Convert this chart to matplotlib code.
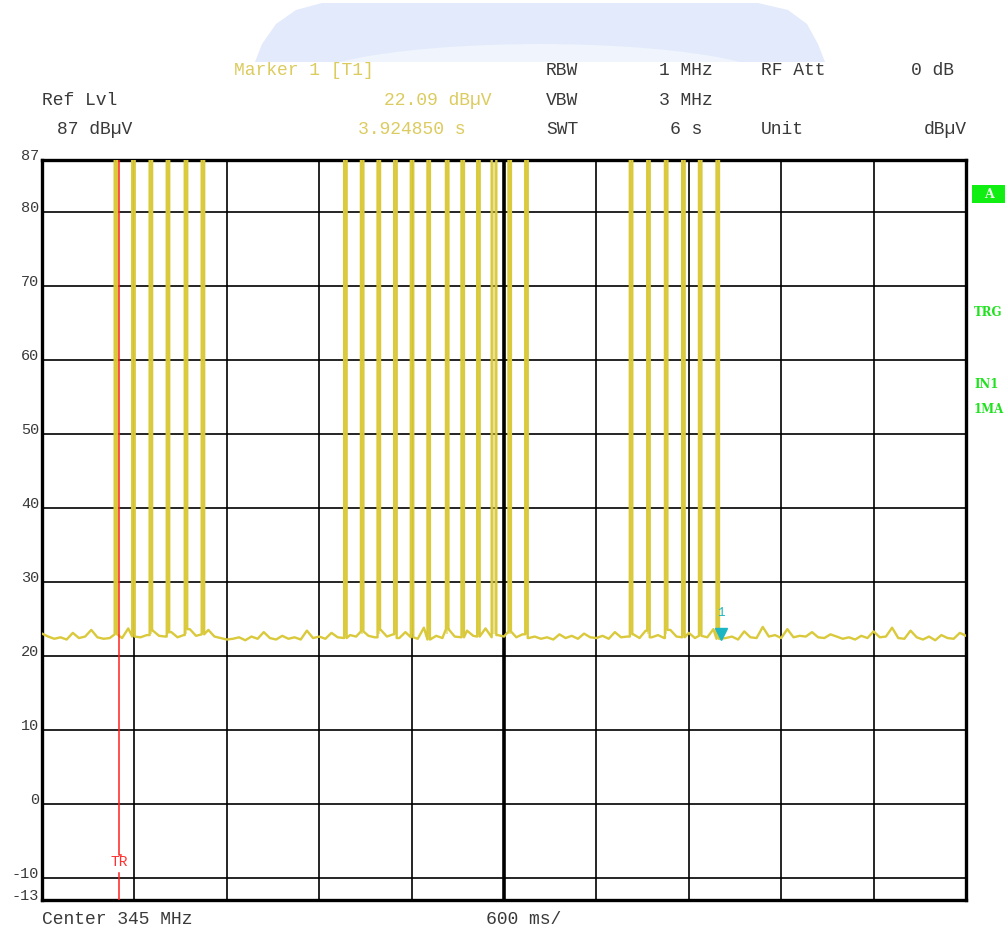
import numpy as np
import matplotlib.pyplot as plt
from matplotlib.patches import Polygon, Ellipse, Rectangle

sweep_time = 6.0          # s, 10 divisions of 600 ms
ref_level = 87
bottom_level = -13
y_ticks = [87, 80, 70, 60, 50, 40, 30, 20, 10, 0, -10, -13]

# noise floor, one sample every 40 ms (dBuV)
noise = [
    23.0, 22.6, 22.3, 22.5, 22.2, 23.1, 22.4, 22.6, 23.5, 22.5,
    22.3, 22.4, 22.9, 22.4, 23.7, 22.6, 22.5, 22.8, 23.4, 22.7,
    22.6, 23.2, 22.5, 22.8, 23.6, 22.7, 22.9, 23.5, 22.6, 22.4,
    22.2, 22.3, 22.5, 22.1, 22.6, 22.3, 23.2, 22.4, 22.2, 22.7,
    22.3, 22.5, 22.2, 23.4, 22.4, 22.6, 22.3, 23.1, 22.5, 22.4,
    22.8, 22.6, 23.3, 22.7, 22.5, 23.5, 22.6, 22.9, 22.4, 23.2,
    22.5, 22.3, 23.8, 22.2, 22.7, 22.4, 23.6, 22.6, 22.5, 23.4,
    22.7, 22.6, 23.7, 22.5, 22.8, 22.6, 23.3, 22.5, 22.9, 22.4,
    22.6, 22.3, 22.5, 22.2, 22.9, 22.4, 22.7, 22.3, 23.0, 22.5,
    22.4, 22.7, 22.3, 23.2, 22.5, 22.6, 22.9, 22.4, 23.4, 22.5,
    22.8, 22.4, 23.5, 22.6, 22.5, 23.1, 22.4, 22.7, 22.5, 23.6,
    22.3, 22.4, 22.6, 22.2, 23.3, 22.5, 22.4, 23.9, 22.6, 22.8,
    22.4, 23.6, 22.5, 22.7, 22.6, 23.2, 22.5, 22.4, 22.9, 22.6,
    22.3, 22.5, 22.2, 22.7, 22.4, 23.3, 22.5, 22.6, 23.8, 22.4,
    22.3, 23.4, 22.5, 22.2, 22.6, 22.1, 22.8, 22.4, 22.3, 23.1,
    22.7,
]

# burst start times (s) and widths (s)
pulse_start = [0.472, 0.586, 0.699, 0.810, 0.927, 1.037,
               1.962, 2.071, 2.179, 2.287, 2.395, 2.503,
               2.623, 2.724, 2.826, 2.920, 3.029, 3.138,
               3.817, 3.930, 4.045, 4.157, 4.266, 4.380]
pulse_width = [0.016] * 15 + [0.030] + [0.016] * 8
pulse_top = 87.3

trigger_t = 0.5
marker_t, marker_val = 4.409, 22.09

W, H = 1008, 931
trace_col = '#d9c93b'
mono = 'Liberation Mono'

fig = plt.figure(figsize=(W / 100, H / 100), dpi=100)


def px(x, y):
    return x / W, 1 - y / H


# faint blue banner at the top
outer = Polygon([px(255, 62), px(262, 44), px(276, 24), px(296, 10), px(322, 3),
                 px(758, 3), px(788, 10), px(807, 24), px(818, 44), px(825, 62)],
                closed=True, transform=fig.transFigure, facecolor='#e2eafb',
                edgecolor='none')
fig.patches.append(outer)
inner = Ellipse(px(540, 84), 480 / W, 80 / H, transform=fig.transFigure,
                facecolor='#eff4fd', edgecolor='none')
inner.set_clip_path(outer)
fig.patches.append(inner)

ax = fig.add_axes([42 / W, 1 - 900 / H, 924 / W, 740 / H])
ax.set_xlim(0, sweep_time)
ax.set_ylim(bottom_level, ref_level)
ax.set_xticks([])
ax.set_yticks([])
for s in ax.spines.values():
    s.set_linewidth(2.4)
    s.set_color('black')

# graticule
for v in range(-10, 81, 10):
    ax.axhline(v, color='black', lw=1.2, zorder=1)
for k in range(1, 10):
    ax.axvline(k * sweep_time / 10, color='black', lw=2.6 if k == 5 else 1.2, zorder=1)

# build trace: noise floor with bursts cut in
dt = sweep_time / (len(noise) - 1)
pts = []
for i, v in enumerate(noise):
    t = i * dt
    if any(s <= t <= s + w for s, w in zip(pulse_start, pulse_width)):
        continue
    pts.append((t, 0, v))
for s, w in zip(pulse_start, pulse_width):
    base = noise[int(round(s / dt))]
    pts += [(s, 1, base), (s, 2, pulse_top), (s + w, 3, pulse_top),
            (s + w, 4, noise[int(round((s + w) / dt))])]
pts.sort()
tt = [p[0] for p in pts]
vv = [p[2] for p in pts]
ax.plot(tt, vv, color=trace_col, lw=1.7, zorder=3)
# pulses look filled on the screen
for s, w in zip(pulse_start, pulse_width):
    ax.fill_between([s, s + w], 23, pulse_top, color=trace_col, alpha=0.55,
                    lw=0, zorder=2)

# trigger line
ax.plot([trigger_t, trigger_t, trigger_t + 0.012], [ref_level, -6.9, -6.9],
        color='#ff2020', lw=1.1, zorder=4)
ax.plot([trigger_t, trigger_t], [-9.4, bottom_level], color='#ff2020', lw=1.1, zorder=4)
ax.text(trigger_t, -7.8, 'TR', color='#ff3030', family=mono, fontsize=10.5,
        ha='center', va='center', zorder=5)

# marker 1
ax.plot([marker_t], [marker_val + 0.9], marker='v', ms=9, color='#1cb5c4', zorder=5)
ax.text(marker_t, 25.0, '1', color='#1cb5c4', family=mono, fontsize=9,
        ha='center', va='bottom', zorder=5)

# y labels
for v in y_ticks:
    y = 160 + (ref_level - v) * 7.4 - 4
    fig.text(*px(39, y), str(v), family=mono, fontsize=11, color='#3a3a3a',
             ha='right', va='center')

# header
hdr = dict(family=mono, fontsize=13, va='baseline')
dark, yel = '#3a3a3a', '#dccb5e'
fig.text(*px(234, 75), 'Marker 1 [T1]', color=yel, ha='left', **hdr)
fig.text(*px(492, 105), '22.09 dBµV', color=yel, ha='right', **hdr)
fig.text(*px(465, 134), '3.924850 s', color=yel, ha='right', **hdr)
fig.text(*px(42, 105), 'Ref Lvl', color=dark, ha='left', **hdr)
fig.text(*px(57, 134), '87 dBµV', color=dark, ha='left', **hdr)
fig.text(*px(546, 75), 'RBW', color=dark, ha='left', **hdr)
fig.text(*px(546, 105), 'VBW', color=dark, ha='left', **hdr)
fig.text(*px(546, 134), 'SWT', color=dark, ha='left', **hdr)
fig.text(*px(713, 75), '1 MHz', color=dark, ha='right', **hdr)
fig.text(*px(713, 105), '3 MHz', color=dark, ha='right', **hdr)
fig.text(*px(702, 134), '6 s', color=dark, ha='right', **hdr)
fig.text(*px(761, 75), 'RF Att', color=dark, ha='left', **hdr)
fig.text(*px(761, 134), 'Unit', color=dark, ha='left', **hdr)
fig.text(*px(954, 75), '0 dB', color=dark, ha='right', **hdr)
fig.text(*px(967, 134), 'dBµV', color=dark, ha='right', **hdr)

# footer
fig.text(*px(42, 924), 'Center 345 MHz', color=dark, ha='left', **hdr)
fig.text(*px(486, 924), '600 ms/', color=dark, ha='left', **hdr)

# right side status labels
grn = '#1fe21f'
fig.patches.append(Rectangle(px(972, 203), 33 / W, 18 / H, transform=fig.transFigure,
                             facecolor='#11ee11', edgecolor='none'))
fig.text(*px(989, 194), 'A', color='#f0fff0', family='DejaVu Serif', weight='bold',
         fontsize=9, ha='center', va='center')
for lab, y in [('TRG', 313), ('IN1', 385), ('1MA', 409)]:
    fig.text(*px(974, y), lab, color=grn, family='DejaVu Serif', weight='bold',
             fontsize=8.5, ha='left', va='center')

fig.savefig('out.png', dpi=100)
